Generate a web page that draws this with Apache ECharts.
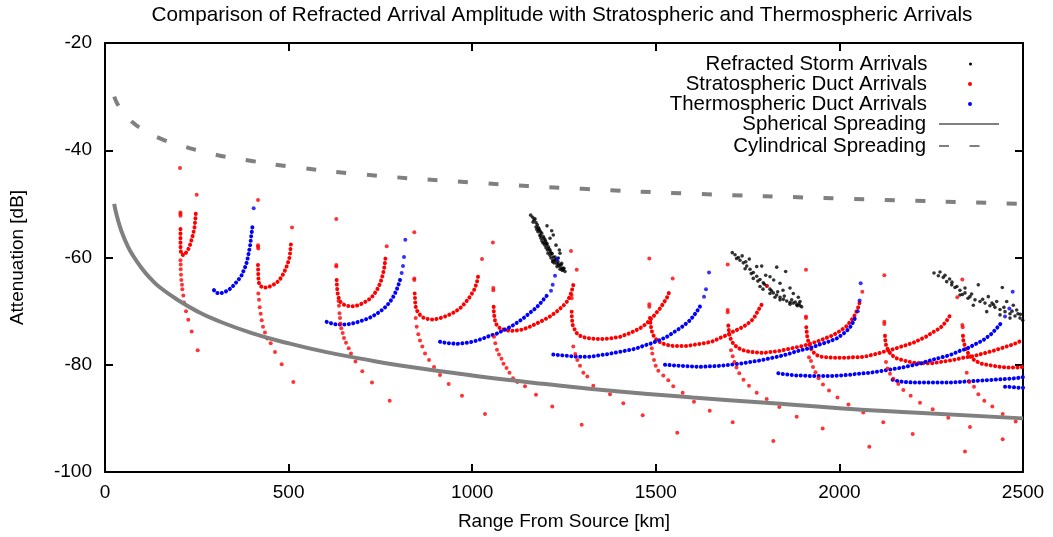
<!DOCTYPE html>
<html><head><meta charset="utf-8">
<script src="https://cdn.jsdelivr.net/npm/echarts@6/dist/echarts.min.js"></script>
<style>html,body{margin:0;padding:0;background:#fff}#c{width:1053px;height:537px}</style>
</head><body><div id="c"></div>
<script>
// ---------- axis ranges / ticks ----------
const xTicks = [0, 500, 1000, 1500, 2000, 2500];
const yTicks = [-100, -80, -60, -40, -20];

// ---------- Refracted storm arrivals (black) ----------
const stormA = [[1159.3,-52.1],[1164.7,-52.5],[1168.3,-53.0],[1173.7,-53.5],[1177.3,-53.9],[1180,-54.4],[1182.7,-54.9],[1186.5,-55.2],[1189.2,-55.5],[1193.6,-56.1],[1198.2,-56.7],[1202.9,-57.4],[1207.2,-58.0],[1211.9,-58.6],[1216.5,-59.2],[1220.9,-59.9],[1225.5,-60.5],[1230.1,-61.1],[1237.2,-61.6],[1243.7,-62.0],[1248.1,-62.3],[1252.7,-62.6],
 [1165.6,-53.4],[1173.7,-54.3],[1179.2,-55.2],[1187.4,-56.4],[1192.8,-57.3],[1201,-58.2],[1206.4,-59.2],[1214.6,-60.1],[1222.8,-61.0],[1231,-61.7],[1239.1,-62.2],[1181.9,-54.7],[1195.5,-56.4],[1203.7,-57.5],[1209.2,-58.4],[1217.3,-59.3],[1225.5,-59.9],[1233.7,-60.8],[1241.8,-61.4],[1247.3,-62.0],[1171,-52.8],[1184.6,-55.8],[1198.2,-57.7],[1211.9,-59.6],[1220.1,-60.5],
 [1216.5,-55.0],[1220.9,-55.8],[1211.9,-56.4],[1237.2,-58.6],[1239.1,-59.2],[1234.5,-60.1],[1243.7,-61.1],[1203.7,-54.1],[1228.2,-57.7],
 [1176,-54.8],[1185,-56.0],[1190,-56.9],[1196,-57.3],[1200,-57.0],[1205,-58.6],[1213,-59.0],[1219,-60.8],[1228,-60.4],[1236,-61.3],[1245,-62.4],[1250,-62.0]];
const stormB = [[1708.3,-59.1],[1715.7,-59.5],[1724.7,-60.0],[1729.3,-60.5],[1738.3,-61.0],[1747.6,-61.6],[1756.6,-62.2],[1765.5,-62.8],[1774.8,-63.5],[1783.8,-64.1],[1792.8,-64.7],[1802,-65.3],[1811,-65.9],[1820,-66.6],[1829.3,-67.0],[1838.3,-67.4],[1847.3,-67.8],[1856.5,-68.1],[1865.5,-68.4],[1874.5,-68.5],[1883.8,-68.8],[1892.8,-69.0],[1897.3,-69.2],
 [1754.6,-60.3],[1774.8,-61.7],[1788.4,-61.6],[1829.3,-61.8],[1853.7,-62.6],[1811,-63.6],[1838.3,-64.8],[1865.5,-65.7],[1874.5,-66.7],[1888.1,-67.4],[1892.8,-68.2],[1735.1,-59.7],[1799.3,-63.3],[1821,-64.2],[1846.3,-66.1],
 [1743.2,-62.1],[1765.5,-63.9],[1783.8,-65.4],[1811,-66.7],[1838.3,-67.9],[1865.5,-68.7],[1791.9,-65.9],[1824.6,-67.4],[1885.4,-69.0],
 [1720,-60.2],[1745,-60.8],[1760,-63.0],[1778,-64.4],[1796,-65.0],[1815,-66.2],[1832,-66.4],[1850,-67.2],[1870,-67.9],[1880,-68.3],[1890,-68.6]];
const stormC = [[2257.6,-62.9],[2269.4,-63.4],[2282.9,-63.7],[2292.2,-64.5],[2305.8,-65.1],[2314.8,-65.6],[2328.4,-66.1],[2342,-66.6],[2355.6,-67.3],[2369.3,-67.9],[2382.9,-68.2],[2396.5,-68.5],[2410.1,-69.0],[2423.7,-69.3],[2437.4,-69.7],[2451,-70.1],[2464.6,-70.5],[2478.2,-70.9],[2491.8,-71.3],[2499.2,-71.7],
 [2287.6,-63.3],[2378.3,-65.1],[2405.5,-67.3],[2428.4,-68.2],[2443.6,-65.6],[2455.6,-68.2],[2473.6,-68.9],[2482.8,-69.8],[2328.4,-67.0],[2364.7,-68.9],[2401.2,-70.1],[2437.4,-70.7],[2464.6,-71.3],[2273.9,-62.7],[2306.6,-64.6],[2342,-65.7],[2350.2,-67.6],[2415.6,-68.5],[2486.3,-70.5],
 [2300,-64.0],[2320,-65.4],[2335,-66.9],[2360,-66.8],[2390,-67.8],[2420,-68.8],[2448,-69.3],[2470,-70.0],[2493,-70.6]];

// ---------- Stratospheric duct arrivals (red) ----------
const strat1Curve = [[205.5,-54.7],[205.5,-55.6],[205.5,-56.6],[205.5,-57.6],[206,-58.6],[207.5,-59.4],[211.6,-59.7],[215,-59.6],[219.8,-59.3],[224.1,-58.8],[228.8,-58.2],[232.3,-57.5],[236.1,-56.6],[239.6,-55.7],[242.4,-54.9],[244.3,-54.1],[245.9,-53.0],[247.8,-51.3]];
const strat1Dots = [[204.2,-43.3],[205.5,-51.6],[205.5,-51.9],[205.5,-52.2],[249.7,-48.3],[205.5,-60.5],[206.2,-61.3],[206.2,-62.2],[207,-63.2],[207.8,-64.2],[209.7,-65.1],[210.5,-65.9],[213.2,-67.1],[215.1,-68.4],[220.6,-70.0],[226.8,-71.6],[236.1,-73.8],[252.4,-77.3]];
const strat2Curve = [[416.7,-61.4],[417.5,-63.3],[418.5,-64.6],[422.1,-65.3],[431.1,-65.6],[440.3,-65.6],[449.3,-65.4],[458.3,-65.1],[467.6,-64.7],[474.7,-64.2],[481.2,-63.6],[487.5,-62.8],[492.9,-62.0],[497.6,-61.1],[501.9,-60.2],[504.6,-58.9],[506.5,-57.4]];
const strat2Dots = [[416.7,-49.3],[416.7,-57.7],[416.7,-58.0],[417.5,-58.3],[509.3,-54.4],[417.5,-66.7],[419.4,-67.9],[421.3,-69.3],[424,-70.5],[426.7,-71.7],[430.3,-72.9],[435.7,-74.0],[442,-75.1],[451.3,-76.0],[463,-77.6],[481.2,-79.9],[512.8,-83.2]];
const strat3Curve = [[631,-64.2],[631.8,-65.4],[632.6,-66.1],[633.7,-66.7],[635.3,-67.3],[637.5,-67.8],[640,-68.2],[648.1,-68.7],[656.3,-69.0],[667.2,-69.1],[678.1,-69.1],[689,-68.9],[699.9,-68.6],[710.8,-68.2],[721.7,-67.7],[731.2,-67.0],[739.4,-66.2],[746.2,-65.3],[751.6,-64.4],[757.1,-63.1],[761.2,-61.6],[763.9,-60.1]];
const strat3Dots = [[629.9,-52.8],[629.9,-61.4],[629.9,-61.7],[767.2,-57.9],[635.9,-68.1],[637.2,-69.0],[638.6,-70.4],[640,-71.3],[640.8,-72.3],[643.5,-73.2],[647.3,-74.1],[650.8,-75.0],[656.3,-75.9],[663.7,-76.9],[669.9,-77.9],[682.2,-79.4],[700.7,-81.2],[727.1,-83.3],[775.3,-86.7]];
const strat4Curve = [[843.4,-66.7],[844.2,-67.3],[844.2,-67.9],[845,-68.5],[846.1,-69.2],[848.9,-69.8],[852.5,-70.3],[857.8,-70.7],[866.8,-71.2],[880.4,-71.5],[894.1,-71.6],[912.3,-71.3],[930.6,-70.9],[948.5,-70.3],[966.8,-69.5],[980.4,-68.5],[994,-67.3],[1004.9,-66.1],[1012.3,-64.8],[1016.6,-63.3]];
const strat4Dots = [[842.3,-55.3],[842.3,-63.9],[842.3,-64.2],[1026.7,-60.3],[846.1,-71.3],[848.9,-72.9],[853.2,-74.3],[857.8,-75.5],[864.1,-76.6],[871.5,-77.9],[882.4,-79.1],[896,-80.4],[912.3,-81.9],[936,-83.6],[972.2,-85.8],[1034.9,-89.2]];
const strat5Curve = [[1058.5,-69.2],[1058.5,-69.8],[1059.4,-70.4],[1060.2,-71.0],[1062.1,-71.7],[1066.7,-72.6],[1075.7,-73.2],[1089.3,-73.5],[1102.9,-73.7],[1121.2,-73.6],[1139.1,-73.4],[1157.4,-72.9],[1175.6,-72.3],[1193.6,-71.7],[1211.9,-71.0],[1230.1,-70.1],[1248.1,-69.0],[1257.3,-68.3],[1264.9,-67.4],[1270.4,-66.4],[1275.3,-65.1]];
const strat5Dots = [[1056.3,-57.2],[1057.5,-65.7],[1057.5,-66.1],[1284.6,-62.3],[1059.4,-74.8],[1062.9,-76.0],[1067.5,-77.2],[1073,-78.1],[1079.8,-78.9],[1085.2,-79.8],[1093.4,-80.6],[1101.6,-81.5],[1111.1,-82.5],[1122.8,-83.2],[1143.8,-84.0],[1173.7,-85.6],[1218.1,-87.8],[1298.2,-91.2]];
const strat6Curve = [[1270.9,-70.1],[1270.9,-70.7],[1271.8,-71.3],[1272.6,-72.0],[1273.7,-72.6],[1277.2,-73.2],[1284.6,-74.1],[1298.2,-74.8],[1320.8,-75.1],[1348,-75.2],[1375.3,-75.1],[1402.5,-74.8],[1429.7,-74.1],[1457,-73.2],[1475.2,-72.3],[1493.2,-71.0],[1511.4,-69.5],[1529.7,-67.6],[1538.7,-66.1]];
const strat6Dots = [[1269,-58.8],[1270.9,-67.0],[1270.9,-67.6],[1546,-63.9],[1275.3,-76.6],[1280.7,-78.0],[1286.2,-79.1],[1293.6,-80.2],[1302.6,-81.5],[1313.5,-82.2],[1329.8,-83.9],[1375.3,-85.5],[1411.5,-87.2],[1464.3,-89.4],[1558.5,-92.7]];
const strat7Curve = [[1484.2,-71.3],[1485,-72.0],[1486.1,-72.6],[1487.7,-73.2],[1489.6,-73.8],[1493.2,-74.5],[1498.6,-75.1],[1506,-75.6],[1516.9,-76.0],[1530.5,-76.3],[1547.6,-76.5],[1565.9,-76.5],[1584.1,-76.5],[1602.1,-76.3],[1620.3,-76.1],[1638.6,-75.9],[1656.6,-75.6],[1674.8,-75.0],[1693.1,-74.5],[1711.1,-73.8],[1724.7,-73.4],[1738.3,-72.9],[1747.6,-72.5],[1756.6,-72.0],[1764.8,-71.5],[1771.5,-70.8],[1779.2,-69.8],[1786.5,-69.0],[1792.8,-68.2]];
const strat7Dots = [[1482.3,-60.2],[1482.3,-68.7],[1482.3,-69.2],[1803.3,-65.3],[1489,-76.9],[1490.4,-77.9],[1495.1,-79.1],[1499.7,-80.2],[1506.8,-81.1],[1520.4,-82.0],[1534,-82.9],[1547.6,-84.0],[1573.2,-85.2],[1604,-86.9],[1646.8,-88.6],[1709.4,-90.7],[1820,-94.2]];
const strat8Curve = [[1697.4,-72.7],[1698.5,-73.3],[1699.3,-73.9],[1701.2,-74.6],[1704,-75.2],[1708.3,-75.8],[1715.7,-76.4],[1724.7,-76.9],[1738.3,-77.3],[1756.6,-77.6],[1774.8,-77.7],[1792.8,-77.8],[1815.6,-77.6],[1838.3,-77.4],[1865.5,-77.0],[1892.8,-76.6],[1915.3,-76.2],[1938.2,-75.7],[1960.8,-75.1],[1982.6,-74.5],[2001.6,-73.7],[2018,-72.9],[2031.6,-71.8],[2042.5,-70.7],[2050.7,-69.4],[2057.5,-67.9]];
const strat8Dots = [[1695.8,-61.3],[1695.8,-69.8],[1695.8,-70.2],[2062.4,-66.4],[1704.8,-77.3],[1709.4,-78.4],[1714.3,-79.5],[1719.7,-80.5],[1727.4,-81.6],[1738.8,-82.8],[1753.8,-83.9],[1774.8,-85.2],[1802,-86.4],[1836.3,-87.9],[1883.7,-89.7],[1954.5,-91.9],[2081.4,-95.3]];
const strat9Curve = [[1909.8,-73.0],[1910.9,-73.7],[1911.8,-74.5],[1913.6,-75.2],[1916.4,-75.9],[1920.7,-76.8],[1928.1,-77.6],[1938.2,-78.2],[1949.9,-78.5],[1965.4,-78.6],[1983.4,-78.7],[2001.6,-78.7],[2019.9,-78.7],[2037.8,-78.6],[2056.1,-78.6],[2074.4,-78.4],[2092.3,-78.1],[2110.6,-77.8],[2128.8,-77.4],[2146.8,-77.1],[2165,-76.7],[2183.3,-76.3],[2201.3,-75.9],[2219.5,-75.3],[2237.8,-74.7],[2255.7,-73.9],[2273.9,-73.2],[2290.3,-72.0],[2305.8,-70.3]];
const strat9Dots = [[1909,-62.3],[1909,-71.0],[1909,-71.3],[2321,-67.4],[1917.2,-78.6],[1922.7,-79.3],[1928.1,-80.4],[1934.9,-81.4],[1943.1,-82.5],[1955.3,-83.7],[1971.7,-84.8],[1994.8,-86.1],[2024.7,-87.4],[2065,-88.9],[2119.5,-90.7],[2199.6,-92.9],[2342,-96.2]];
const strat10Curve = [[2124.2,-74.6],[2125,-75.4],[2126.1,-76.1],[2128.8,-76.7],[2133.2,-77.4],[2142.4,-78.2],[2156,-78.8],[2174,-79.2],[2201.2,-79.6],[2228.5,-79.7],[2255.7,-79.7],[2282.9,-79.4],[2310.2,-79.1],[2337.4,-78.7],[2364.7,-78.4],[2391.9,-77.9],[2419.1,-77.4],[2446.3,-76.8],[2473.6,-76.2],[2496.4,-75.5]];
const strat10Dots = [[2122.3,-63.3],[2122.3,-72.0],[2122.3,-72.4],[2126.9,-79.5],[2131,-80.7],[2137.8,-81.7],[2146.8,-82.6],[2160.4,-83.6],[2174,-84.7],[2194.1,-85.8],[2219.5,-87.1],[2254.1,-88.3],[2296.5,-89.9],[2355.6,-91.6],[2444.7,-93.9]];
const strat11Curve = [[2336.6,-74.6],[2337.4,-75.4],[2339.3,-76.0],[2342.9,-76.7],[2347.5,-77.5],[2355.6,-78.4],[2364.7,-79.0],[2373.9,-79.4],[2387.5,-79.8],[2401.2,-80.0],[2419.1,-80.2],[2437.4,-80.4],[2455.6,-80.5],[2473.6,-80.5],[2491.8,-80.5],[2500,-80.4]];
const strat11Dots = [[2334.7,-64.1],[2334.7,-72.6],[2335.8,-73.0],[2346.7,-81.5],[2353.8,-83.2],[2366.6,-84.1],[2378.3,-85.5],[2394.6,-86.7],[2416.4,-87.8],[2444.7,-89.2],[2480.1,-90.6]];

// ---------- Thermospheric duct arrivals (blue) ----------
const thermo1Curve = [[296.8,-66.1],[299.6,-66.4],[304.2,-66.6],[311.3,-66.7],[318.6,-66.6],[326.8,-66.4],[335.8,-66.1],[345,-65.6],[354,-64.9],[363,-64.2],[372.3,-63.3],[378.5,-62.3],[384,-61.4],[387.5,-60.5],[390.3,-59.5],[393,-58.6],[394.9,-57.9],[396.8,-56.9],[398.4,-55.9],[400.4,-54.9],[402.3,-53.8]];
const thermo1Dots = [[404.9,-50.8]];
const thermo2Curve = [[603.7,-72.0],[612.7,-72.2],[621.7,-72.4],[631,-72.5],[640.3,-72.5],[653.6,-72.5],[667.2,-72.4],[680.8,-72.2],[694.4,-71.9],[708,-71.6],[721.7,-71.2],[735.3,-70.7],[749,-70.1],[762.5,-69.3],[773.4,-68.5],[782.9,-67.6],[791.1,-66.5],[797.9,-65.4],[803.4,-64.2]];
const thermo2Dots = [[808,-62.9],[811.5,-61.6],[814.3,-59.9],[817.8,-56.7]];
const thermo3Curve = [[912.3,-75.7],[925.9,-75.9],[939.5,-76.0],[957.8,-76.1],[974.9,-76.0],[994,-75.8],[1012.3,-75.5],[1029.4,-75.1],[1048.5,-74.6],[1066.7,-74.2],[1083.9,-73.6],[1102.9,-73.0],[1121.2,-72.2],[1138.3,-71.4],[1157.4,-70.3],[1175.6,-69.3],[1187.4,-68.4],[1198.2,-67.5],[1206,-66.9]];
const thermo3Dots = [[1214.6,-66.2],[1219.2,-65.1],[1225.5,-63.4],[1231.8,-60.3]];
const thermo4Curve = [[1220.9,-78.1],[1237,-78.2],[1253.2,-78.3],[1270,-78.4],[1286,-78.5],[1302.6,-78.5],[1318,-78.5],[1333,-78.4],[1348,-78.2],[1363,-78.1],[1378,-77.9],[1393.5,-77.7],[1409,-77.5],[1424,-77.3],[1438.7,-77.1],[1454,-76.8],[1469,-76.4],[1484.2,-76.1],[1499,-75.7],[1514,-75.3],[1529.7,-74.8],[1547.6,-74.0],[1565.9,-73.2],[1579.5,-72.5],[1593.2,-71.7],[1602.6,-70.9],[1611.4,-70.1],[1619,-69.3],[1625,-68.5]];
const thermo4Dots = [[1631.3,-67.3],[1636.7,-65.9],[1644.9,-62.8]];
const thermo5Curve = [[1525,-80.0],[1544,-80.1],[1565.9,-80.2],[1593.2,-80.3],[1620.3,-80.4],[1647.6,-80.3],[1674.8,-80.2],[1702,-80.0],[1729.3,-79.8],[1756.6,-79.5],[1783.8,-79.2],[1811,-78.8],[1838.3,-78.4],[1865.5,-77.9],[1892.8,-77.3],[1920,-76.9],[1947.3,-76.2],[1970.3,-75.7],[1992.6,-75.1],[2007,-74.4],[2019.9,-73.7],[2030.2,-72.9],[2037.8,-72.0],[2043.8,-71.1]];
const thermo5Dots = [[2050,-70.0],[2055,-68.0],[2058,-64.8]];
const thermo6Curve = [[1833.6,-81.6],[1845,-81.7],[1856.5,-81.8],[1870,-81.9],[1883.7,-82.0],[1901,-82.0],[1919.9,-82.1],[1938.2,-82.1],[1956.2,-82.1],[1979,-82.1],[2001.6,-82.0],[2024.3,-81.9],[2047.1,-81.7],[2065,-81.6],[2083.3,-81.5],[2110.6,-81.2],[2137.8,-80.9],[2165,-80.6],[2192.3,-80.2],[2219.5,-79.8],[2246.7,-79.2],[2273.9,-78.7],[2301.2,-78.2],[2328.4,-77.4],[2346.7,-77.0],[2369.3,-76.2],[2391.9,-75.4],[2414.7,-74.2],[2428.4,-73.2],[2439.3,-72.3]];
const thermo6Dots = [[2451,-71.0],[2462.8,-69.5],[2471.9,-66.4]];
const thermo7Curve = [[2145.1,-82.8],[2156,-83.0],[2174,-83.2],[2201.2,-83.3],[2219.5,-83.3],[2237.8,-83.3],[2260.3,-83.3],[2282.9,-83.3],[2305.8,-83.3],[2328.4,-83.2],[2351,-83.1],[2373.9,-83.0],[2396.5,-82.9],[2419.1,-82.8],[2441.9,-82.7],[2464.6,-82.6],[2482.8,-82.5],[2500,-82.3]];
const thermo8Curve = [[2451,-84.1],[2460,-84.1],[2473.6,-84.2],[2487.2,-84.3],[2500,-84.3]];

// ---------- Spreading reference curves (gray) ----------
const spherical = [[25,-50],[30,-51.6],[40,-54.1],[50,-56],[60,-57.6],[75,-59.5],[100,-62],[125,-64],[150,-65.6],[200,-68],[250,-70],[300,-71.6],[400,-74.1],[500,-76],[600,-77.6],[700,-78.9],[800,-80.1],[1000,-82],[1200,-83.6],[1400,-85],[1600,-86.1],[1800,-87.1],[2000,-88.1],[2200,-88.9],[2500,-90]];
const cylindrical = [[25,-30],[35,-31.5],[50,-33],[75,-34.8],[100,-36],[150,-37.8],[200,-39],[300,-40.8],[400,-42],[500,-43],[700,-44.5],[1000,-46],[1300,-47.2],[1600,-48.1],[2000,-49],[2500,-50]];

const seriesNames = ['Refracted Storm Arrivals','Stratospheric Duct Arrivals','Thermospheric Duct Arrivals','Spherical Spreading','Cylindrical Spreading'];

// ---------- build option ----------
const FONT = '"Liberation Sans", Arial, Helvetica, sans-serif';
const RED = '#ff0000', BLUE = '#0000ff', GRAY = '#808080';

const stratCurves = [strat1Curve,strat2Curve,strat3Curve,strat4Curve,strat5Curve,strat6Curve,strat7Curve,strat8Curve,strat9Curve,strat10Curve,strat11Curve];
const stratDots = [].concat(strat1Dots,strat2Dots,strat3Dots,strat4Dots,strat5Dots,strat6Dots,strat7Dots,strat8Dots,strat9Dots,strat10Dots,strat11Dots);
const thermoCurves = [thermo1Curve,thermo2Curve,thermo3Curve,thermo4Curve,thermo5Curve,thermo6Curve,thermo7Curve,thermo8Curve];
const thermoDots = [].concat(thermo1Dots,thermo2Dots,thermo3Dots,thermo4Dots,thermo5Dots,thermo6Dots);

function dottedCurve(name, data, color) {
  return { type:'line', name:name, data:data, symbol:'none', showSymbol:false, silent:true, smooth:false,
    lineStyle:{ color:color, width:4, type:[0.1, 4.4], cap:'round', join:'round' }, z:2 };
}

const series = [];
series.push({ type:'scatter', name:seriesNames[0], data:[].concat(stormA, stormB, stormC), symbol:'circle', symbolSize:3.6, itemStyle:{color:'#000'}, silent:true });
series.push({ type:'scatter', name:seriesNames[1], data:stratDots, symbol:'circle', symbolSize:4, itemStyle:{color:RED}, silent:true });
stratCurves.forEach((c,i) => series.push(dottedCurve('strat-curve-'+(i+1), c, RED)));
series.push({ type:'scatter', name:seriesNames[2], data:thermoDots, symbol:'circle', symbolSize:4, itemStyle:{color:BLUE}, silent:true });
thermoCurves.forEach((c,i) => series.push(dottedCurve('thermo-curve-'+(i+1), c, BLUE)));
series.push({ type:'line', name:seriesNames[3], data:spherical, smooth:true, symbol:'none', showSymbol:false, silent:true, lineStyle:{color:GRAY, width:4} });
series.push({ type:'line', name:seriesNames[4], data:cylindrical, smooth:true, symbol:'none', showSymbol:false, silent:true, lineStyle:{color:GRAY, width:4, type:[10, 20.5]} });

const axisLineStyle = { show:true, onZero:false, lineStyle:{ color:'#000', width:2 } };
const tickStyle = { show:true, inside:true, length:8, lineStyle:{ color:'#000', width:2 } };
const labelStyle = { color:'#000', fontSize:19, fontFamily:FONT, formatter: v => String(v) };

// legend: dot items use a 4px icon box centred at x=970, line items a 60px box (940-1000)
const legendTops = [54, 74, 94, 114, 136];
const legends = seriesNames.map((n,i) => {
  const isDot = i < 3;
  return {
    data:[n], orient:'horizontal', align:'right', right: isDot ? 81 : 53, top:legendTops[i], padding:0,
    itemWidth: isDot ? 4 : 60, itemHeight: isDot ? (i === 0 ? 3 : 4) : 14, selectedMode:false, itemGap:0,
    itemStyle:{ opacity: isDot ? 1 : 0 },
    textStyle:{ color:'#000', fontFamily:FONT, fontSize:20.4, padding: isDot ? [0,36,0,0] : [0,8,0,0] }
  };
});

const option = {
  animation:false,
  backgroundColor:'#ffffff',
  title:{ text:'Comparison of Refracted Arrival Amplitude with Stratospheric and Thermospheric Arrivals',
    left:562, top:5, textAlign:'center', padding:0,
    textStyle:{ color:'#000', fontFamily:FONT, fontSize:20.7, fontWeight:'normal' } },
  grid:{ left:105, right:30, top:43, bottom:65, show:false, containLabel:false, outerBoundsMode:'none' },
  legend: legends,
  xAxis:[
    { type:'value', position:'bottom', min:xTicks[0], max:xTicks[xTicks.length-1], interval:xTicks[1]-xTicks[0],
      axisLine:axisLineStyle, axisTick:tickStyle, splitLine:{show:false}, minorTick:{show:false},
      axisLabel:Object.assign({ margin:11 }, labelStyle),
      name:'Range From Source [km]', nameLocation:'middle', nameGap:40,
      nameTextStyle:{ color:'#000', fontFamily:FONT, fontSize:19 } },
    { type:'value', position:'top', min:xTicks[0], max:xTicks[xTicks.length-1], interval:xTicks[1]-xTicks[0],
      axisLine:axisLineStyle, axisTick:tickStyle, splitLine:{show:false}, axisLabel:{show:false} }
  ],
  yAxis:[
    { type:'value', position:'left', min:yTicks[0], max:yTicks[yTicks.length-1], interval:yTicks[1]-yTicks[0],
      axisLine:axisLineStyle, axisTick:tickStyle, splitLine:{show:false},
      axisLabel:Object.assign({ margin:13 }, labelStyle),
      name:'Attenuation [dB]', nameLocation:'middle', nameGap:78, nameRotate:90,
      nameTextStyle:{ color:'#000', fontFamily:FONT, fontSize:19 } },
    { type:'value', position:'right', min:yTicks[0], max:yTicks[yTicks.length-1], interval:yTicks[1]-yTicks[0],
      axisLine:axisLineStyle, axisTick:tickStyle, splitLine:{show:false}, axisLabel:{show:false} }
  ],
  series: series
};

const chart = echarts.init(document.getElementById('c'), null, { renderer:'canvas', width:1053, height:537 });
chart.setOption(option);
</script></body></html>
